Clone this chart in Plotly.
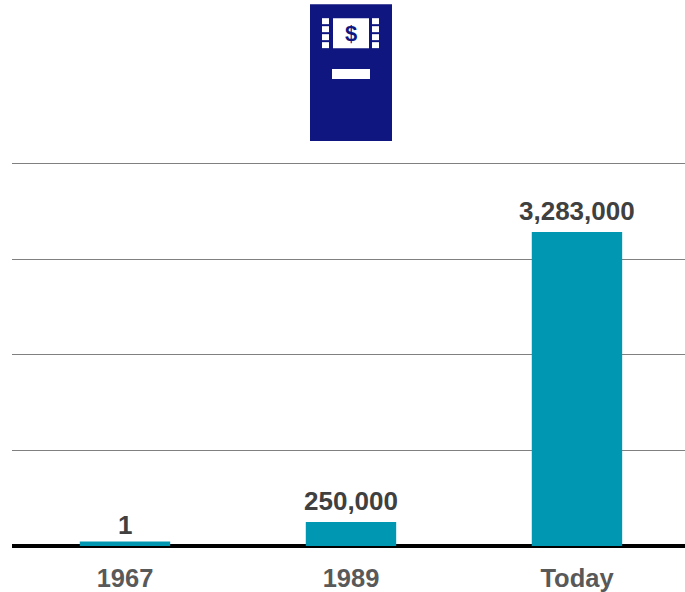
import plotly.graph_objects as go

categories = ["1967", "1989", "Today"]
values = [1, 250000, 3283000]
labels = ["1", "250,000", "3,283,000"]
y_ticks = [0, 1000000, 2000000, 3000000, 4000000]
line_widths = [9, 0, 0]

W, H = 685, 592
NAVY = "#10167F"
TEAL = "#0097B2"
FONT = "Liberation Sans, Arial, sans-serif"
PLOT_TOP, PLOT_BOTTOM = 160, 546.5

fig = go.Figure(go.Bar(
    x=categories, y=values,
    marker=dict(color=TEAL, line=dict(color=TEAL, width=line_widths)),
    width=0.4, cliponaxis=True, hoverinfo="skip",
))

def px(x0, y0, x1, y1, color):
    return dict(type="rect", xref="paper", yref="paper", layer="above",
                x0=(x0 - 12) / 673, x1=(x1 - 12) / 673,
                y0=(PLOT_BOTTOM - y0) / (PLOT_BOTTOM - PLOT_TOP),
                y1=(PLOT_BOTTOM - y1) / (PLOT_BOTTOM - PLOT_TOP),
                fillcolor=color, line=dict(width=0))

shapes = [px(310, 4, 392, 141, NAVY), px(333, 18, 369, 48, "white"), px(332, 69, 370, 79, "white")]
for top in (18, 26, 34, 42):
    shapes += [px(322, top, 329, top + 6, "white"), px(372, top, 379, top + 6, "white")]

annotations = [dict(text="<b>$</b>", xref="paper", yref="paper",
                    x=(351 - 12) / 673, y=(PLOT_BOTTOM - 33) / (PLOT_BOTTOM - PLOT_TOP),
                    xanchor="center", yanchor="middle", showarrow=False,
                    font=dict(family=FONT, size=22, color=NAVY))]
for i, (v, t) in enumerate(zip(values, labels)):
    annotations.append(dict(x=i, y=v, text=f"<b>{t}</b>", xref="x", yref="y", showarrow=False,
                            xanchor="center", yanchor="bottom", yshift=4,
                            font=dict(family=FONT, size=26, color="#404040")))

fig.update_layout(
    width=W, height=H, margin=dict(l=12, r=0, t=PLOT_TOP, b=H - PLOT_BOTTOM),
    paper_bgcolor="white", plot_bgcolor="white", showlegend=False,
    xaxis=dict(type="category", range=[-0.5, 2.478], showgrid=False, ticks="",
               showline=False, zeroline=False, ticklabelstandoff=14,
               tickfont=dict(family=FONT, size=25.5, color="#595959", weight="bold")),
    yaxis=dict(range=[0, 4036550], tickvals=y_ticks, showticklabels=False, ticks="",
               showgrid=True, gridcolor="#808080", gridwidth=1, zeroline=True,
               zerolinecolor="black", zerolinewidth=4),
    shapes=shapes,
    annotations=annotations,
)
fig.write_html("out.html", config={"displayModeBar": False},
               post_script="document.body.style.margin='0';")
